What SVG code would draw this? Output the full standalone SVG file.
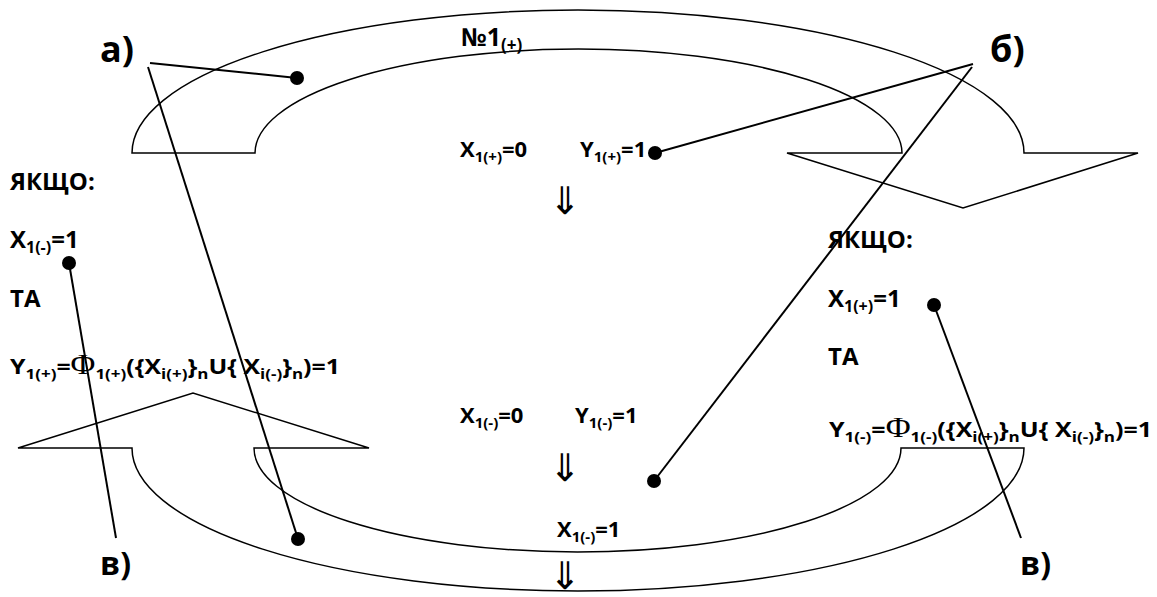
<svg xmlns="http://www.w3.org/2000/svg" xmlns:xlink="http://www.w3.org/1999/xlink" width="1157" height="597" viewBox="0 0 1157 597">
  <style>
    .t { font-family: "Open Sans", "Noto Sans", "DejaVu Sans", sans-serif; font-weight: bold; font-size: 22px; fill: #000; }
    .s { font-size: 15px; }
    .b { font-size: 24px; }
    .b .s { font-size: 16px; }
    .num { font-size: 25px; }
    .num .s { font-size: 17px; }
    .phi { font-family: "Liberation Serif", "DejaVu Serif", serif; font-weight: normal; font-size: 30px; }
    .lbl { font-size: 36px; }
    .lbl2 { font-size: 32px; }
    .arr { font-family: "DejaVu Sans", sans-serif; font-weight: normal; font-size: 38px; text-anchor: middle; }
    .shape { fill: none; stroke: #000; stroke-width: 1.5; stroke-linejoin: miter; }
    .conn { stroke: #000; stroke-width: 2; stroke-linecap: butt; fill: none; }
    .dot { fill: #000; }
  </style>
  <defs>
    <!-- curved band ending in a triangular arrowhead -->
    <path id="band" d="M132,153 A446,143 0 0 1 1024,153 L1138,153 L963,208 L787,153 L902,153 A323.5,104 0 0 0 255,153 Z"/>
  </defs>
  <rect width="1157" height="597" fill="#fff"/>

  <g id="band-top">
    <use xlink:href="#band" class="shape"/>
    <text class="t num" x="461" y="46">№1<tspan class="s" dy="5">(+)</tspan></text>
  </g>

  <g id="band-bottom">
    <use xlink:href="#band" class="shape" transform="rotate(180 578 300.5)"/>
  </g>

  <g id="state-plus">
    <text class="t" x="460" y="157">X<tspan class="s" dy="5">1(+)</tspan><tspan dy="-5">=0</tspan></text>
    <text class="t" x="580" y="157">Y<tspan class="s" dy="5">1(+)</tspan><tspan dy="-5">=1</tspan></text>
    <text class="t arr" x="565" y="214">⇓</text>
  </g>

  <g id="state-minus">
    <text class="t" x="460" y="423">X<tspan class="s" dy="5">1(-)</tspan><tspan dy="-5">=0</tspan></text>
    <text class="t" x="575" y="423">Y<tspan class="s" dy="5">1(-)</tspan><tspan dy="-5">=1</tspan></text>
    <text class="t arr" x="565" y="481">⇓</text>
    <text class="t" x="557" y="537">X<tspan class="s" dy="5">1(-)</tspan><tspan dy="-5">=1</tspan></text>
    <text class="t arr" x="565" y="589">⇓</text>
  </g>

  <g id="cond-left">
    <text class="t b" x="10" y="190">ЯКЩО:</text>
    <text class="t b" x="10" y="248">X<tspan class="s" dy="5">1(-)</tspan><tspan dy="-5">=1</tspan></text>
    <text class="t b" x="10" y="307">ТА</text>
    <text class="t" x="10" y="374" textLength="330" lengthAdjust="spacingAndGlyphs">Y<tspan class="s" dy="5">1(+)</tspan><tspan dy="-5">=</tspan><tspan class="phi">Φ</tspan><tspan class="s" dy="5">1(+)</tspan><tspan dy="-5">({X</tspan><tspan class="s" dy="5">i(+)</tspan><tspan dy="-5">}</tspan><tspan class="s" dy="5">n</tspan><tspan dy="-5">U{ X</tspan><tspan class="s" dy="5">i(-)</tspan><tspan dy="-5">}</tspan><tspan class="s" dy="5">n</tspan><tspan dy="-5">)=1</tspan></text>
  </g>

  <g id="cond-right">
    <text class="t b" x="828" y="248">ЯКЩО:</text>
    <text class="t b" x="828" y="307">X<tspan class="s" dy="5">1(+)</tspan><tspan dy="-5">=1</tspan></text>
    <text class="t b" x="828" y="365">ТА</text>
    <text class="t" x="829" y="437" textLength="323" lengthAdjust="spacingAndGlyphs">Y<tspan class="s" dy="5">1(-)</tspan><tspan dy="-5">=</tspan><tspan class="phi">Φ</tspan><tspan class="s" dy="5">1(-)</tspan><tspan dy="-5">({X</tspan><tspan class="s" dy="5">i(+)</tspan><tspan dy="-5">}</tspan><tspan class="s" dy="5">n</tspan><tspan dy="-5">U{ X</tspan><tspan class="s" dy="5">i(-)</tspan><tspan dy="-5">}</tspan><tspan class="s" dy="5">n</tspan><tspan dy="-5">)=1</tspan></text>
  </g>

  <g id="labels">
    <text class="t lbl" x="100" y="62">а)</text>
    <text class="t lbl" x="990" y="62">б)</text>
    <text class="t lbl2" x="100" y="575">в)</text>
    <text class="t lbl2" x="1020" y="575">в)</text>
  </g>

  <g id="connectors">
    <line class="conn" x1="150" y1="63" x2="297" y2="78"/>
    <line class="conn" x1="148" y1="67" x2="298" y2="539"/>
    <line class="conn" x1="973" y1="64" x2="655" y2="153"/>
    <line class="conn" x1="972" y1="67" x2="654" y2="481"/>
    <line class="conn" x1="69" y1="263" x2="116" y2="538"/>
    <line class="conn" x1="934" y1="305" x2="1021" y2="538"/>
    <circle class="dot" cx="297" cy="78" r="7"/>
    <circle class="dot" cx="298" cy="539" r="7"/>
    <circle class="dot" cx="655" cy="153" r="7"/>
    <circle class="dot" cx="654" cy="481" r="7"/>
    <circle class="dot" cx="69" cy="263" r="7"/>
    <circle class="dot" cx="934" cy="305" r="7"/>
  </g>
</svg>
